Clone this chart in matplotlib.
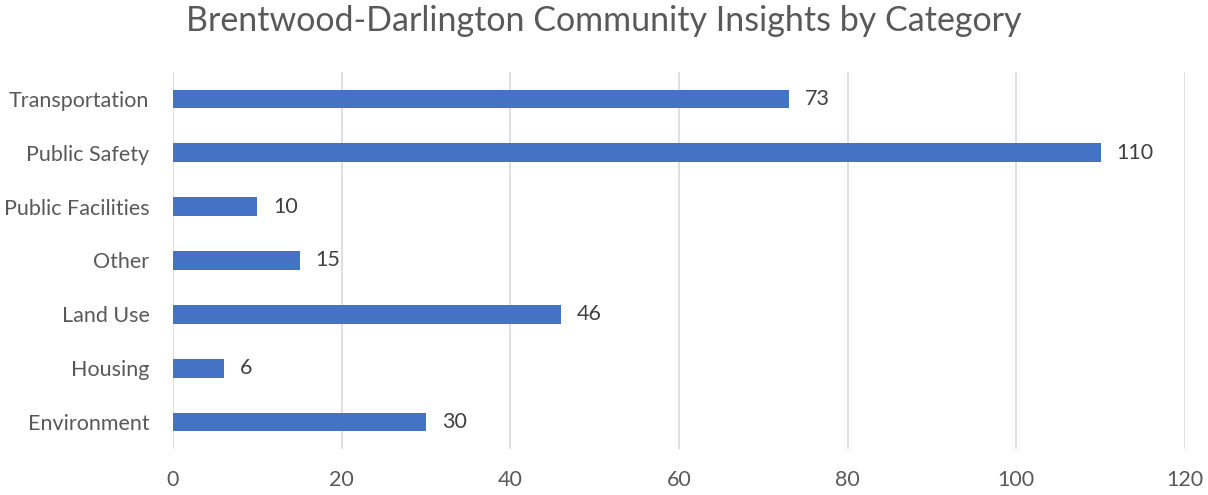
import matplotlib
matplotlib.use("Agg")
import matplotlib.pyplot as plt

categories = ["Environment", "Housing", "Land Use", "Other", "Public Facilities", "Public Safety", "Transportation"]
values = [30, 6, 46, 15, 10, 110, 73]
xticks = [0, 20, 40, 60, 80, 100, 120]

plt.rcParams['font.family'] = ['Lato', 'DejaVu Sans']

fig = plt.figure(figsize=(12.08, 4.95), dpi=100)
ax = fig.add_axes([173/1208, 1-449/495, (1185-173)/1208, (449-72)/495])

ypos = list(range(len(categories)))
ax.barh(ypos, values, height=0.35, color="#4472C4", zorder=3)
for y, v in zip(ypos, values):
    ax.text(v + 1.9, y, str(v), va="center", ha="left", fontsize=15.5, color="#404040")

ax.set_xlim(0, 120)
ax.set_ylim(-0.5, len(categories) - 0.5)
ax.set_xticks(xticks)
ax.set_xticklabels([str(t) for t in xticks])
ax.set_yticks(ypos)
ax.set_yticklabels(categories)
ax.tick_params(axis="both", length=0, labelsize=15.5, labelcolor="#595959")
ax.tick_params(axis="x", pad=15)
ax.tick_params(axis="y", pad=17)
ax.grid(axis="x", color="#D9D9D9", linewidth=1.2, zorder=0)
for s in ax.spines.values():
    s.set_visible(False)

fig.suptitle("Brentwood-Darlington Community Insights by Category", y=0.99, fontsize=24.5, color="#595959")
fig.savefig("out.png", dpi=100)
